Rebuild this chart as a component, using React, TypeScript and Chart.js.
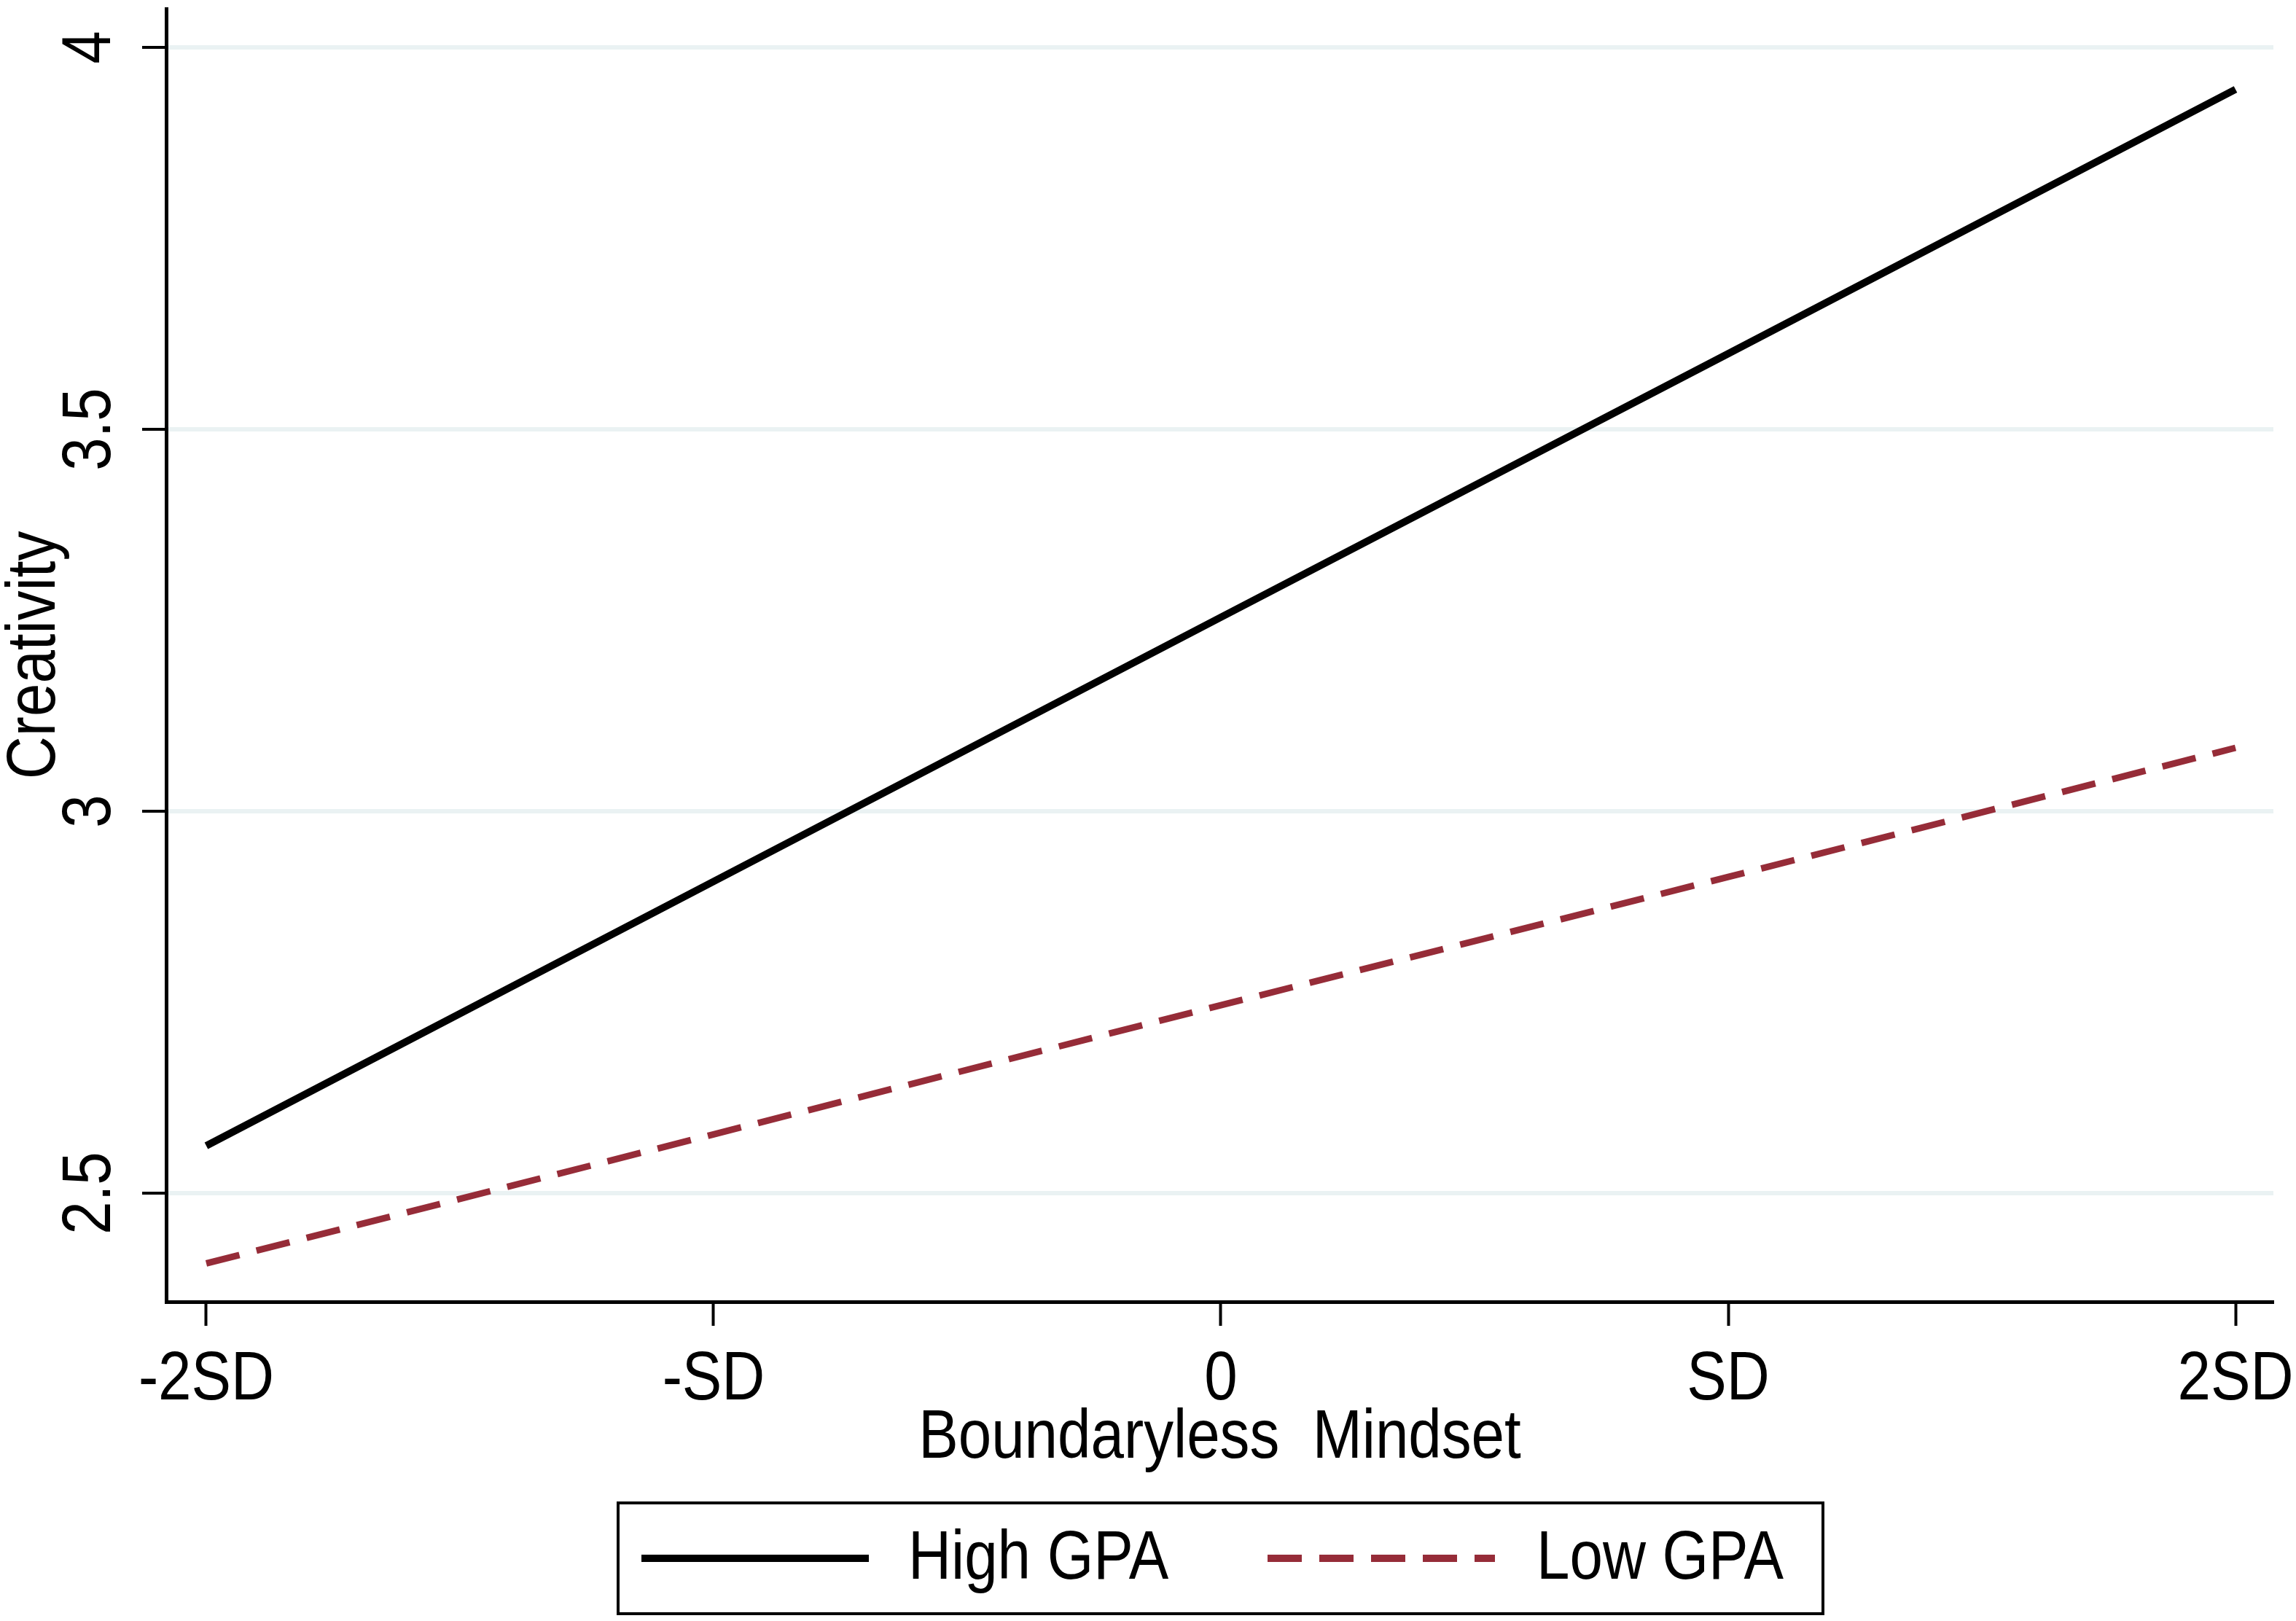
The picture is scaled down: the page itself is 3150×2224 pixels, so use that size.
import { useEffect, useRef } from "react"
import { Chart, registerables } from "chart.js"

Chart.register(...registerables)

// x positions of the simple slopes (-2SD .. 2SD)
const mindsetLevels = [-2, -1, 0, 1, 2]
const mindsetLabels = ["-2SD", "-SD", "0", "SD", "2SD"]

// predicted creativity
const highGpa = [2.562, 2.908, 3.254, 3.599, 3.945]
const lowGpa = [2.408, 2.577, 2.746, 2.914, 3.083]

const creativityTicks = [2.5, 3, 3.5, 4]
const creativityLabels = ["2.5", "3", "3.5", "4"]

const FONT = "'Liberation Sans', Arial, sans-serif"
const RED = "rgb(150, 44, 56)"
// the original export has tall, narrow lettering
const TEXT_SQUEEZE = 0.86

// Stata style boxed legend under the axis title
const boxLegend = {
  id: "boxLegend",
  afterDraw(chart: Chart) {
    const ctx = chart.ctx
    const sets = chart.data.datasets as any[]
    ctx.save()
    ctx.strokeStyle = "#000"
    ctx.lineWidth = 4
    ctx.strokeRect(848, 2062, 1653, 152)

    const y = 2138
    const items = [
      { x0: 880, x1: 1192, tx: 1246 },
      { x0: 1739, x1: 2051, tx: 2108 },
    ]
    items.forEach((it, i) => {
      const ds = sets[i]
      ctx.beginPath()
      ctx.setLineDash(ds.borderDash || [])
      ctx.lineCap = "butt"
      ctx.strokeStyle = ds.borderColor
      ctx.lineWidth = 10
      ctx.moveTo(it.x0, y)
      ctx.lineTo(it.x1, y)
      ctx.stroke()
      ctx.setLineDash([])
      ctx.fillStyle = "#000"
      ctx.font = `95px ${FONT}`
      ctx.textAlign = "left"
      ctx.textBaseline = "middle"
      ctx.fillText(ds.label, it.tx, y + 2)
    })
    ctx.restore()
  },
}

export default function App() {
  const chartRef = useRef<HTMLCanvasElement>(null)
  const chartInstance = useRef<Chart | null>(null)

  useEffect(() => {
    if (!chartRef.current) return
    if (chartInstance.current) chartInstance.current.destroy()

    const ctx = chartRef.current.getContext("2d")
    if (!ctx) return

    // squeeze every label horizontally around its anchor
    const fill = ctx.fillText.bind(ctx)
    ctx.fillText = (text: string, x: number, y: number, maxWidth?: number) => {
      ctx.save()
      ctx.translate(x, y)
      ctx.scale(TEXT_SQUEEZE, 1)
      if (maxWidth !== undefined) fill(text, 0, 0, maxWidth / TEXT_SQUEEZE)
      else fill(text, 0, 0)
      ctx.restore()
    }

    chartInstance.current = new Chart(ctx, {
      type: "line",
      data: {
        datasets: [
          {
            label: "High GPA",
            data: mindsetLevels.map((x, i) => ({ x, y: highGpa[i] })),
            borderColor: "#000",
            borderWidth: 10,
            pointRadius: 0,
            tension: 0,
          },
          {
            label: "Low GPA",
            data: mindsetLevels.map((x, i) => ({ x, y: lowGpa[i] })),
            borderColor: RED,
            borderWidth: 9,
            borderDash: [47, 24],
            pointRadius: 0,
            tension: 0,
          },
        ],
      },
      options: {
        animation: false,
        responsive: true,
        maintainAspectRatio: false,
        layout: { padding: { top: 12, right: 31, left: 0, bottom: 0 } },
        plugins: {
          legend: { display: false },
          tooltip: { enabled: false },
        },
        scales: {
          x: {
            type: "linear",
            min: -2.079,
            max: 2.0747,
            afterBuildTicks: (scale: any) => {
              scale.ticks = mindsetLevels.map((v) => ({ value: v }))
            },
            afterFit: (scale: any) => {
              scale.height = 438
              scale.paddingLeft = 0
              scale.paddingRight = 0
            },
            ticks: {
              callback: (v: any) => mindsetLabels[mindsetLevels.indexOf(Number(v))],
              color: "#000",
              font: { family: FONT, size: 95, lineHeight: 1 },
              padding: 27,
              maxRotation: 0,
              autoSkip: false,
            },
            grid: {
              drawOnChartArea: false,
              tickLength: 33,
              tickColor: "#000",
              tickWidth: 4,
            },
            border: { display: true, color: "#000", width: 5 },
            title: {
              display: true,
              text: "Boundaryless  Mindset",
              color: "#000",
              font: { family: FONT, size: 95, lineHeight: 1 },
              padding: { top: 0, bottom: 203 },
            },
          },
          y: {
            type: "linear",
            min: 2.3578,
            max: 4.0506,
            afterBuildTicks: (scale: any) => {
              scale.ticks = creativityTicks.map((v) => ({ value: v }))
            },
            afterFit: (scale: any) => {
              scale.width = 228
              scale.paddingTop = 0
              scale.paddingBottom = 0
            },
            ticks: {
              callback: (v: any) => creativityLabels[creativityTicks.indexOf(Number(v))],
              color: "#000",
              font: { family: FONT, size: 95, lineHeight: 1 },
              minRotation: 90,
              maxRotation: 90,
              crossAlign: "center",
              padding: 4,
              autoSkip: false,
            },
            grid: {
              color: "#EAF2F3",
              lineWidth: 6,
              tickLength: 33,
              tickColor: "#000",
              tickWidth: 4,
            },
            border: { display: true, color: "#000", width: 5 },
            title: {
              display: true,
              text: "Creativity",
              color: "#000",
              font: { family: FONT, size: 95, lineHeight: 0.9 },
              padding: { top: 6, bottom: 0 },
            },
          },
        },
      },
      plugins: [boxLegend],
    })

    return () => {
      if (chartInstance.current) {
        chartInstance.current.destroy()
        chartInstance.current = null
      }
    }
  }, [])

  return (
    <div style={{ position: "absolute", left: 0, top: 0, width: 3150, height: 2224, background: "#fff" }}>
      <canvas ref={chartRef}></canvas>
    </div>
  )
}
